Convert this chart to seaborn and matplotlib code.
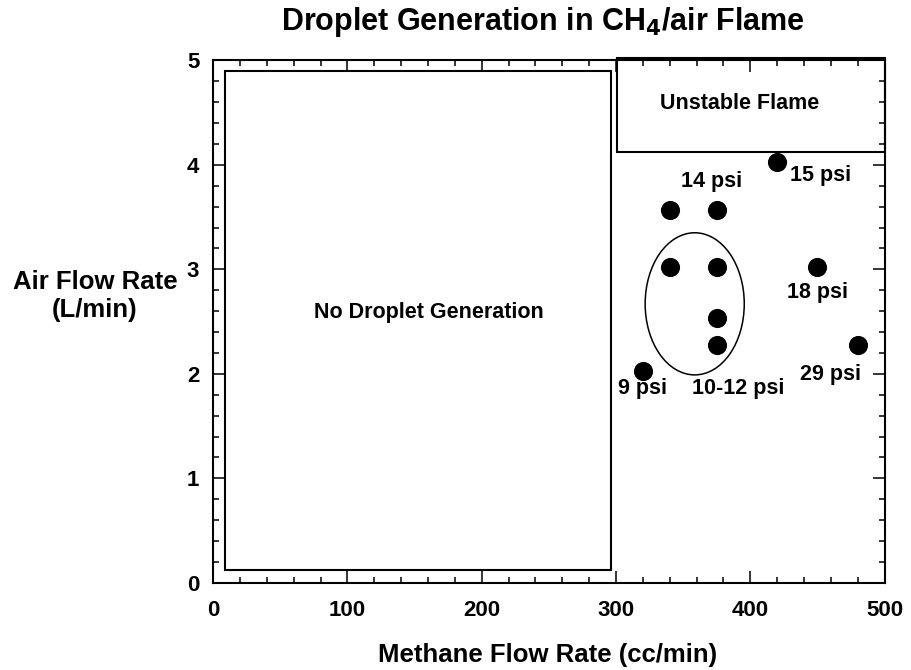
import matplotlib
matplotlib.use("Agg")
import matplotlib.pyplot as plt
import seaborn as sns
import pandas as pd
from matplotlib.patches import Rectangle, Ellipse
from matplotlib.ticker import MultipleLocator

# measured operating points (methane cc/min, air L/min)
methane = [320, 340, 375, 340, 375, 375, 375, 420, 450, 480]
air = [2.03, 3.57, 3.57, 3.02, 3.02, 2.53, 2.28, 4.03, 3.02, 2.28]

# pressure labels and where they sit
psi_labels = ["9 psi", "10-12 psi", "14 psi", "15 psi", "18 psi", "29 psi"]
psi_x = [320, 391, 371, 452, 450, 460]
psi_y = [1.86, 1.86, 3.84, 3.90, 2.78, 1.99]

df = pd.DataFrame({"methane": methane, "air": air})

sns.set_style("ticks")
plt.rcParams["font.family"] = ["Liberation Sans", "DejaVu Sans"]
plt.rcParams["font.weight"] = "bold"
plt.rcParams["mathtext.default"] = "bf"
for key in ["text.color", "axes.labelcolor", "xtick.color", "ytick.color",
            "axes.edgecolor"]:
    plt.rcParams[key] = "black"

fig = plt.figure(figsize=(9.11, 6.7), dpi=100)
ax = fig.add_axes([0.234, 0.13, 0.737, 0.780])

sns.scatterplot(data=df, x="methane", y="air", ax=ax, color="black",
                s=190, edgecolor="black", linewidth=0, zorder=5, legend=False)

# regions
ax.add_patch(Rectangle((9, 0.12), 287, 4.78, fill=False, lw=1.5, ec="black"))
ax.add_patch(Rectangle((301, 4.12), 199, 0.9, fill=False, lw=1.5, ec="black",
                       clip_on=False))
ax.add_patch(Ellipse((358.6, 2.67), 73.8, 1.36, fill=False, lw=1.1, ec="black"))

ax.text(161, 2.59, "No Droplet Generation", ha="center", va="center",
        fontsize=15.5, fontweight="bold")
ax.text(392, 4.59, "Unstable Flame", ha="center", va="center",
        fontsize=15.5, fontweight="bold")
for lab, x, y in zip(psi_labels, psi_x, psi_y):
    ax.text(x, y, lab, ha="center", va="center", fontsize=15.5,
            fontweight="bold")

ax.set_xlim(0, 500)
ax.set_ylim(0, 5)
ax.xaxis.set_major_locator(MultipleLocator(100))
ax.xaxis.set_minor_locator(MultipleLocator(20))
ax.yaxis.set_major_locator(MultipleLocator(1))
ax.yaxis.set_minor_locator(MultipleLocator(0.2))
ax.tick_params(which="both", direction="in", top=True, right=True, width=1.1)
ax.tick_params(which="major", length=8.5, labelsize=16)
ax.tick_params(which="minor", length=4.5)
ax.tick_params(axis="x", which="major", pad=12)
ax.tick_params(axis="y", which="major", pad=10)
for lab in ax.get_xticklabels() + ax.get_yticklabels():
    lab.set_fontweight("bold")
for sp in ax.spines.values():
    sp.set_linewidth(1.5)
    sp.set_visible(True)

ax.set_xlabel("Methane Flow Rate (cc/min)", fontsize=18.5, fontweight="bold")
ax.xaxis.set_label_coords(0.4985, -0.138)
ax.xaxis.label.set_va("center")
ax.set_ylabel("Air Flow Rate\n(L/min)", fontsize=18.5, fontweight="bold",
              rotation=0, ha="center", va="center")
ax.yaxis.set_label_coords(-0.176, 0.549)
ax.set_title("Droplet Generation in CH$_{\\mathbf{4}}$/air Flame", fontsize=22,
             fontweight="bold", pad=22, x=0.491)

fig.savefig("out.png", dpi=100)
